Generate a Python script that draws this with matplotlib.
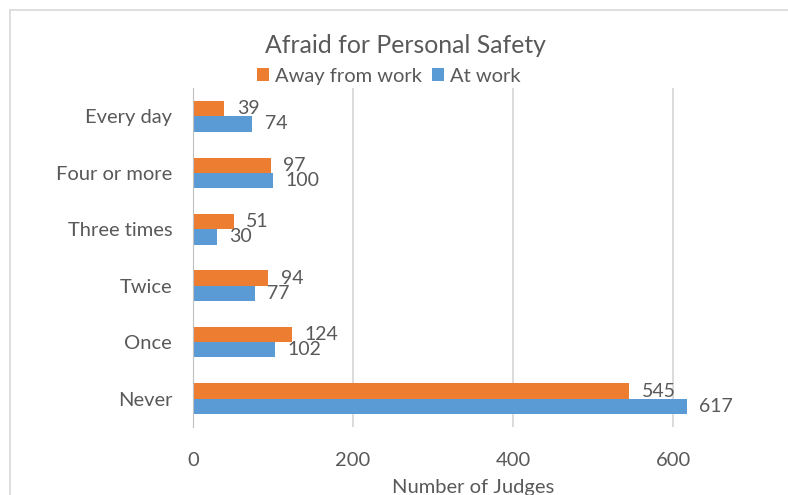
import matplotlib.pyplot as plt
import numpy as np
from matplotlib.lines import Line2D

plt.rcParams['font.family'] = ['Lato', 'DejaVu Sans']

categories = ["Every day", "Four or more", "Three times", "Twice", "Once", "Never"]
away_from_work = [39, 97, 51, 94, 124, 545]
at_work = [74, 100, 30, 77, 102, 617]

orange = "#ED7D31"
blue = "#5B9BD5"
txt = "#595959"

fig = plt.figure(figsize=(7.88, 4.95), dpi=100)
ax = fig.add_axes([0.245, 0.1374, 0.7107, 0.6848])

y = np.arange(len(categories))
h = 0.27
b1 = ax.barh(y - h / 2, away_from_work, h, color=orange, label="Away from work")
b2 = ax.barh(y + h / 2, at_work, h, color=blue, label="At work")

for bars, vals in ((b1, away_from_work), (b2, at_work)):
    for r, v in zip(bars, vals):
        ax.annotate(str(v), (r.get_width(), r.get_y() + r.get_height() / 2),
                    xytext=(9, 0), textcoords='offset points', va='center', ha='left',
                    fontsize=14, color=txt)

ax.set_ylim(len(categories) - 0.5, -0.5)
ax.set_yticks(y)
ax.set_yticklabels(categories)
ax.set_xlim(0, 700)
ax.set_xticks([0, 200, 400, 600])
ax.tick_params(axis='both', length=0, labelsize=14.5, colors=txt)
ax.tick_params(axis='x', pad=18)
ax.tick_params(axis='y', pad=15)
ax.grid(axis='x', color='#d9d9d9', lw=1.3)
ax.set_axisbelow(True)
for s in ['top', 'right', 'bottom']:
    ax.spines[s].set_visible(False)
ax.spines['left'].set_color('#bfbfbf')
ax.set_xlabel("Number of Judges", fontsize=14.5, color=txt, labelpad=7)

fig.text(0.514, 0.908, "Afraid for Personal Safety", ha='center', va='center',
         fontsize=17.8, color=txt)
fig.legend(handles=[b1, b2], loc='center', bbox_to_anchor=(0.493, 0.846), ncol=2,
           frameon=False, fontsize=14.5, handlelength=0.6, handleheight=0.6,
           handletextpad=0.3, columnspacing=0.5, labelcolor=txt)

# chart frame
fig.add_artist(Line2D([0.0127, 0.0127], [0, 0.98], color='#d9d9d9', lw=1.2))
fig.add_artist(Line2D([0.0127, 1], [0.98, 0.98], color='#d9d9d9', lw=1.2))

fig.savefig("out.png", dpi=100)
